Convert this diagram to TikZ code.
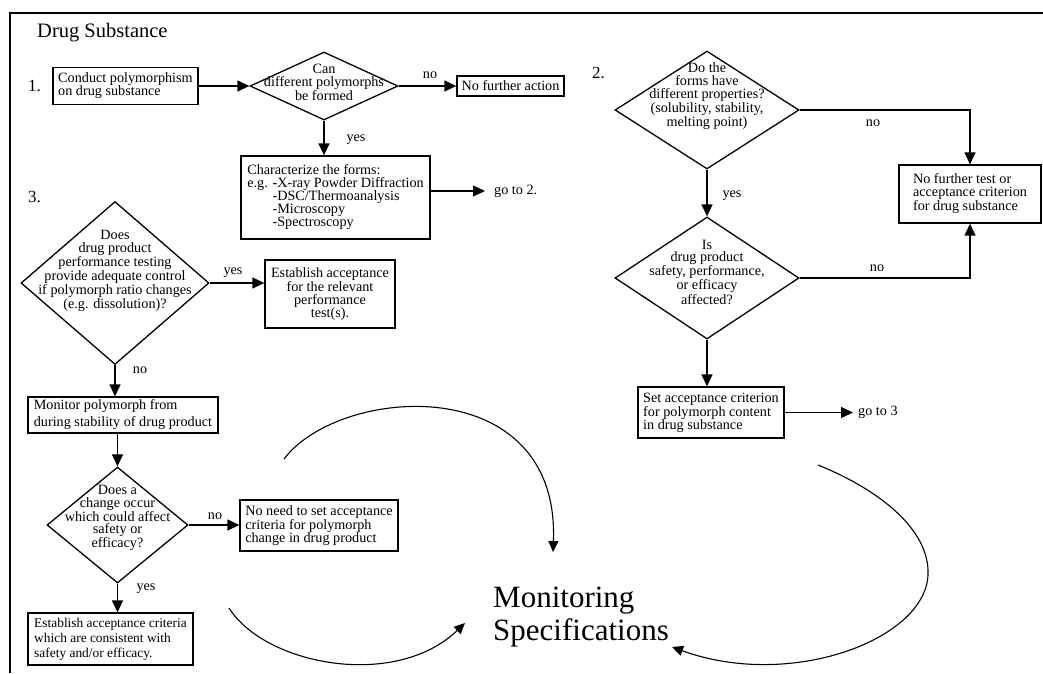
\documentclass[tikz,border=0pt]{standalone}
\usepackage{fontspec}
\setmainfont{Liberation Serif}
\usetikzlibrary{shapes.geometric,arrows.meta}

\begin{document}
\begin{tikzpicture}[x=1pt,y=-1pt,
    every node/.style={font=\fontsize{14.2}{13}\selectfont},
    box/.style={draw,line width=1.3pt,inner sep=2pt,align=left},
    dia/.style={draw,diamond,line width=1.3pt,inner sep=0pt},
    dtext/.style={align=center,inner sep=0pt,font=\fontsize{14.2}{12.8}\selectfont},
    arr/.style={line width=1.3pt,-{Triangle[length=12pt,width=11pt]}},
    curv/.style={line width=1.1pt,-{Triangle[length=11pt,width=10pt]}},
    lbl/.style={inner sep=1pt},
    num/.style={anchor=base west,inner sep=0pt,font=\fontsize{17}{17}\selectfont}]
  \useasboundingbox (0,0) rectangle (1043,673);
  \draw[line width=2pt] (1043,13) -- (10,13) -- (10,673);

  \node[anchor=base west,inner sep=0pt,font=\fontsize{20.5}{20}\selectfont] (title) at (37,37) {Drug Substance};
  \node[num] (one) at (28,91) {1.};
  \node[num] (two) at (592,78) {2.};
  \node[num] (three) at (28,202) {3.};

  % step 1
  \node[box,minimum width=145,minimum height=37] (cond) at (125.5,86) {Conduct polymorphism\\on drug substance};
  \node[dia,minimum width=148,minimum height=68,
    label={[dtext,yshift=4pt]center:{Can\\different polymorphs\\be formed}}] (canform) at (324,86) {};
  \node[box,minimum width=107,minimum height=20] (nfa) at (510.5,86) {No further action};
  \node[box,minimum width=189,minimum height=83] (chr) at (335.5,197.5)
    {Characterize the forms:\\e.g. -X-ray Powder Diffraction\\\hphantom{e.g. }-DSC/Thermoanalysis\\\hphantom{e.g. }-Microscopy\\\hphantom{e.g. }-Spectroscopy};
  \node[anchor=west,inner sep=2pt] (goto2) at (492,191) {go to 2.};

  \draw[arr] (cond.east) -- (canform.west);
  \draw[arr] (canform.east) -- (nfa.west);
  \draw[arr] (canform.south) -- (canform.south |- chr.north);
  \draw[arr] (chr.east |- goto2.west) -- ([xshift=-7pt]goto2.west);
  \node[lbl] (no1) at (430,75) {no};
  \node[lbl] (yes1) at (356,140) {yes};

  % step 2
  \node[dia,minimum width=184,minimum height=118,
    label={[dtext,yshift=14pt]center:{Do the\\forms have\\different properties?\\(solubility, stability,\\melting point)}}] (props) at (707,110) {};
  \node[box,minimum width=142,minimum height=58] (nft) at (970,194) {No further test or\\acceptance criterion\\for drug substance};
  \node[dia,minimum width=184,minimum height=122,
    label={[dtext,yshift=6pt]center:{Is\\drug product\\safety, performance,\\or efficacy\\affected?}}] (safety) at (707,278) {};
  \node[box,minimum width=146,minimum height=51] (sac) at (711,412.5) {Set acceptance criterion\\for polymorph content\\in drug substance};
  \node[anchor=west,inner sep=2pt] (goto3) at (856,412.5) {go to 3};

  \draw[arr] (props.east) -| (nft.north);
  \draw[arr] (props.south) -- (safety.north);
  \draw[arr] (safety.east) -| (nft.south);
  \draw[arr] (safety.south) -- (safety.south |- sac.north);
  \draw[arr] (sac.east) -- ([xshift=-3pt]goto3.west);
  \node[lbl] (no2) at (873,123) {no};
  \node[lbl] (yes2) at (732,196) {yes};
  \node[lbl] (no3) at (877,268) {no};

  % step 3
  \node[dia,minimum width=188,minimum height=163,
    label={[dtext,yshift=12pt]center:{Does\\drug product\\performance testing\\provide adequate control\\if polymorph ratio changes\\(e.g. dissolution)?}}] (perf) at (115,283) {};
  \node[box,align=center,minimum width=130,minimum height=68] (estp) at (330,294) {Establish acceptance\\for the relevant\\performance\\test(s).};
  \node[box,minimum width=190,minimum height=36,font=\fontsize{14.2}{17}\selectfont] (mon) at (123,415) {Monitor polymorph from\\during stability of drug product};
  \node[dia,minimum width=141,minimum height=116,
    label={[dtext,yshift=7pt]center:{Does a\\change occur\\which could affect\\safety or\\efficacy?}}] (change) at (117.5,525) {};
  \node[box,minimum width=158,minimum height=51] (noneed) at (319,525.5) {No need to set acceptance\\criteria for polymorph\\change in drug product};
  \node[box,minimum width=165,minimum height=52,font=\fontsize{13.4}{15}\selectfont] (estc) at (110.5,639) {Establish acceptance criteria\\which are consistent with\\safety and/or efficacy.};

  \draw[arr] (perf.east) -- (perf.east -| estp.west);
  \draw[arr] (perf.south) -- (perf.south |- mon.north);
  \draw[arr] (mon.south -| change.north) -- (change.north);
  \draw[arr] (change.east) -- (change.east -| noneed.west);
  \draw[arr] (change.south) -- (change.south |- estc.north);
  \node[lbl] (yes3) at (233,273) {yes};
  \node[lbl] (no4) at (140,370) {no};
  \node[lbl] (no5) at (215,516) {no};
  \node[lbl] (yes4) at (146,589) {yes};

  % monitoring
  \node[anchor=west,align=left,inner sep=0pt,font=\fontsize{31}{33}\selectfont] (monspec) at (493,617) {Monitoring\\Specifications};
  \coordinate (c1a) at (284,459);
  \coordinate (c1b) at (553,552);
  \coordinate (c2a) at (229,608);
  \coordinate (c2b) at (465,623);
  \coordinate (c3a) at (818,465);
  \coordinate (c3b) at (672,647);
  \draw[curv] (c1a) .. controls (340,385) and (560,370) .. (c1b);
  \draw[curv] (c2a) .. controls (265,665) and (395,690) .. (c2b);
  \draw[curv] (c3a) .. controls (880,490) and (930,530) .. (928,575) .. controls (925,640) and (790,690) .. (c3b);
\end{tikzpicture}
\end{document}
